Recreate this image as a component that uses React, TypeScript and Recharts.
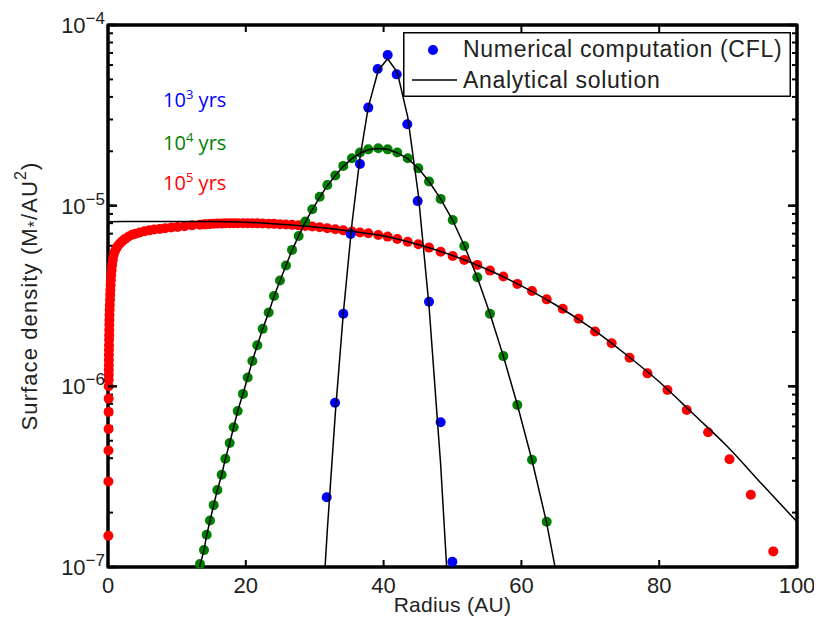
import React from 'react';
import { ComposedChart, Scatter, Line, XAxis, YAxis, Legend, ReferenceDot, ReferenceArea } from 'recharts';

// ---------- data ----------
const xTicks = [0, 20, 40, 60, 80, 100];
const yTicks = [
  1e-7, 2e-7, 3e-7, 4e-7, 5e-7, 6e-7, 7e-7, 8e-7, 9e-7,
  1e-6, 2e-6, 3e-6, 4e-6, 5e-6, 6e-6, 7e-6, 8e-6, 9e-6,
  1e-5, 2e-5, 3e-5, 4e-5, 5e-5, 6e-5, 7e-5, 8e-5, 9e-5,
  1e-4,
];
const xDomain = [0, 100];
const yDomain = [1e-7, 1e-4];

// 10^3 yrs numerical (blue)
const blueR = [31.74, 32.95, 34.15, 35.22, 36.57, 37.78, 39.14, 40.59, 41.9, 43.44, 44.95, 46.59, 48.28, 49.98];
const blueV = [2.43e-7, 8.12e-7, 2.52e-6, 6.97e-6, 1.7e-5, 3.49e-5, 5.71e-5, 6.82e-5, 5.33e-5, 2.82e-5, 1.06e-5, 2.94e-6, 6.33e-7, 1.07e-7];

// 10^4 yrs numerical (green)
const greenR = [13.35, 13.93, 14.32, 14.8, 15.34, 15.87, 16.5, 17.03, 17.66, 18.24, 18.82, 19.59, 20.27, 20.95, 21.67, 22.45, 23.32, 24.09, 24.96, 25.83, 26.71, 27.67, 28.64, 29.65, 30.72, 31.83, 32.99, 34.15, 35.41, 36.57, 37.78, 39.23, 40.59, 41.99, 43.5, 45.04, 46.59, 48.28, 50.03, 51.71, 53.6, 55.44, 57.38, 59.41, 61.54, 63.67];
const greenV = [1.04e-7, 1.24e-7, 1.51e-7, 1.81e-7, 2.2e-7, 2.67e-7, 3.24e-7, 3.97e-7, 4.86e-7, 5.94e-7, 7.31e-7, 9.08e-7, 1.12e-6, 1.38e-6, 1.69e-6, 2.08e-6, 2.56e-6, 3.16e-6, 3.85e-6, 4.66e-6, 5.69e-6, 6.8e-6, 8.16e-6, 9.55e-6, 1.12e-5, 1.3e-5, 1.47e-5, 1.66e-5, 1.83e-5, 1.97e-5, 2.05e-5, 2.08e-5, 2.05e-5, 1.97e-5, 1.83e-5, 1.61e-5, 1.36e-5, 1.09e-5, 8.33e-6, 5.98e-6, 4.02e-6, 2.52e-6, 1.47e-6, 7.88e-7, 3.92e-7, 1.78e-7];

// 10^5 yrs numerical (red)
const redR = [
  0.05, 0.06, 0.07, 0.08, 0.09, 0.095, 0.1, 0.105, 0.11, 0.115, 0.12, 0.125, 0.13, 0.14, 0.15, 0.16, 0.17, 0.18, 0.19, 0.2,
  0.22, 0.24, 0.26, 0.29, 0.32, 0.35, 0.38, 0.42, 0.47, 0.53, 0.6, 0.7, 0.82, 1.0, 1.2, 1.45, 1.75, 2.1, 2.5, 3.0,
  3.5, 4.0, 4.6, 5.3, 6.0, 6.7, 7.5, 8.3, 9.2, 10.1, 11.1, 12.2,
  13.35, 13.93, 14.32, 14.8, 15.34, 15.87, 16.5, 17.03, 17.66, 18.24, 18.82, 19.59, 20.27, 20.95, 21.67, 22.45, 23.32, 24.09, 24.96, 25.83,
  26.71, 27.67, 28.64, 29.65, 30.72, 31.83, 32.99, 34.15, 35.41, 36.57, 37.78, 39.23, 40.59, 41.99, 43.5, 45.04, 46.59, 48.28, 50.03, 51.71,
  53.6, 55.44, 57.38, 59.41, 61.54, 63.67, 66.0, 68.3, 70.7, 73.1, 75.7, 78.3, 81.2, 84.0, 87.1, 90.2, 93.3, 96.56,
];
const redV = [
  1.49e-7, 2.97e-7, 4.41e-7, 5.81e-7, 7.22e-7, 8.55e-7, 1.0e-6, 1.085e-6, 1.156e-6, 1.233e-6, 1.313e-6, 1.4e-6, 1.49e-6, 1.59e-6, 1.69e-6, 1.81e-6, 1.92e-6, 2.05e-6, 2.19e-6, 2.33e-6,
  2.48e-6, 2.65e-6, 2.82e-6, 3.01e-6, 3.21e-6, 3.41e-6, 3.64e-6, 3.88e-6, 4.13e-6, 4.4e-6, 4.7e-6, 5.01e-6, 5.33e-6, 5.6e-6, 5.8e-6, 6.0e-6, 6.2e-6, 6.38e-6, 6.55e-6, 6.75e-6,
  6.9e-6, 7.0e-6, 7.1e-6, 7.22e-6, 7.3e-6, 7.38e-6, 7.43e-6, 7.5e-6, 7.57e-6, 7.63e-6, 7.7e-6, 7.78e-6,
  7.85e-6, 7.88e-6, 7.9e-6, 7.92e-6, 7.94e-6, 7.96e-6, 7.97e-6, 7.98e-6, 7.99e-6, 8.0e-6, 8.0e-6, 8.0e-6, 8.0e-6, 7.99e-6, 7.98e-6, 7.97e-6, 7.95e-6, 7.93e-6, 7.9e-6, 7.87e-6,
  7.83e-6, 7.78e-6, 7.72e-6, 7.66e-6, 7.6e-6, 7.5e-6, 7.4e-6, 7.3e-6, 7.2e-6, 7.1e-6, 7.03e-6, 6.88e-6, 6.74e-6, 6.54e-6, 6.32e-6, 6.11e-6, 5.86e-6, 5.56e-6, 5.27e-6, 5.01e-6,
  4.7e-6, 4.37e-6, 4.05e-6, 3.69e-6, 3.37e-6, 3.03e-6, 2.69e-6, 2.37e-6, 2.01e-6, 1.73e-6, 1.44e-6, 1.18e-6, 9.55e-7, 7.4e-7, 5.57e-7, 3.95e-7, 2.51e-7, 1.22e-7,
];

// Analytical solutions (black lines)
const blueLineR = [30.72, 31.83, 32.99, 34.15, 35.41, 36.57, 37.78, 39.23, 40.59, 41.99, 43.5, 45.04, 46.59, 48.28, 50.03];
const blueLineV = [3.2e-8, 1.6e-7, 7.06e-7, 2.53e-6, 7.96e-6, 1.84e-5, 3.51e-5, 5.62e-5, 6.5e-5, 5.47e-5, 3.1e-5, 1.15e-5, 2.79e-6, 3.69e-7, 2.67e-8];

const greenLineR = [12.9, 13.35, 13.93, 14.32, 14.8, 15.34, 15.87, 16.5, 17.03, 17.66, 18.24, 18.82, 19.59, 20.27, 20.95, 21.67, 22.45, 23.32, 24.09, 24.96, 25.83, 26.71, 27.67, 28.64, 29.65, 30.72, 31.83, 32.99, 34.15, 35.41, 36.57, 37.78, 39.23, 40.59, 41.99, 43.5, 45.04, 46.59, 48.28, 50.03, 51.71, 53.6, 55.44, 57.38, 59.41, 61.54, 63.67, 65.99];
const greenLineV = [8.6e-8, 1.02e-7, 1.24e-7, 1.5e-7, 1.8e-7, 2.2e-7, 2.67e-7, 3.24e-7, 3.97e-7, 4.86e-7, 5.94e-7, 7.3e-7, 9.1e-7, 1.12e-6, 1.38e-6, 1.69e-6, 2.08e-6, 2.56e-6, 3.14e-6, 3.84e-6, 4.66e-6, 5.66e-6, 6.8e-6, 8.1e-6, 9.5e-6, 1.11e-5, 1.29e-5, 1.47e-5, 1.65e-5, 1.82e-5, 1.95e-5, 2.04e-5, 2.07e-5, 2.05e-5, 1.96e-5, 1.82e-5, 1.61e-5, 1.36e-5, 1.09e-5, 8.3e-6, 6.0e-6, 4.0e-6, 2.52e-6, 1.47e-6, 7.9e-7, 3.9e-7, 1.75e-7, 6.0e-8];

const redLineR = [0, 5, 10, 15, 20, 25, 30, 35, 40, 45, 50, 55, 60, 65, 70, 75, 80, 85, 90, 95, 100];
const redLineV = [8.15e-6, 8.17e-6, 8.18e-6, 8.17e-6, 8.1e-6, 7.9e-6, 7.62e-6, 7.25e-6, 6.8e-6, 6.1e-6, 5.3e-6, 4.45e-6, 3.6e-6, 2.82e-6, 2.12e-6, 1.52e-6, 1.06e-6, 7.0e-7, 4.6e-7, 2.85e-7, 1.78e-7];

// Annotation labels ("10^n yrs") with anchor positions in data space
const annExponents = ['3', '4', '5'];
const annColors = ['#0000ff', '#008000', '#ff0000'];
const annR = [8, 8, 8];
const annV = [3.52e-5, 2.03e-5, 1.22e-5];

const legendLabels = ['Numerical computation (CFL)', 'Analytical solution'];

// ---------- helpers ----------
const zip = (rs: number[], vs: number[]) => rs.map((r, i) => ({ r, v: vs[i] }));
const blueData = zip(blueR, blueV);
const greenData = zip(greenR, greenV);
const redData = zip(redR, redV);
const blueLine = zip(blueLineR, blueLineV);
const greenLine = zip(greenLineR, greenLineV);
const redLine = zip(redLineR, redLineV);

const FONT = '"Liberation Sans", Arial, Helvetica, sans-serif';
const ANN_FONT = '"Open Sans", "Noto Sans", sans-serif';
const TEXT = '#222';
const TICK_LINE = { stroke: '#000', strokeWidth: 2 };
const AXIS_LINE = { stroke: '#000', strokeWidth: 3 };

const isMajor = (v: number) => Math.abs(Math.log10(v) - Math.round(Math.log10(v))) < 1e-6;

const XTickBottom = (props: any) => {
  const { x, y, payload } = props;
  return (
    <text x={x} y={y + 26} textAnchor="middle" fontSize={22} fontFamily={FONT} fill={TEXT}>
      {payload.value}
    </text>
  );
};

const YTickLeft = (props: any) => {
  const { x, y, payload } = props;
  const v = payload.value as number;
  const major = isMajor(v);
  const exp = Math.round(Math.log10(v));
  if (!major) return <g />;
  return (
    <g>
      <line x1={x} x2={x + 9} y1={y} y2={y} stroke="#000" strokeWidth={2.5} />
      <text x={x - 3} y={y + 8} textAnchor="end" fontSize={22} fontFamily={FONT} fill={TEXT}>
        10
        <tspan dy={-9} fontSize={17}>{'\u2212' + String(-exp)}</tspan>
      </text>
    </g>
  );
};

const YTickRight = (props: any) => {
  const { x, y, payload } = props;
  if (!isMajor(payload.value)) return <g />;
  return <line x1={x} x2={x - 9} y1={y} y2={y} stroke="#000" strokeWidth={2.5} />;
};

const Empty = () => <g />;

const XTitle = (props: any) => {
  const vb = props.viewBox;
  return (
    <text x={vb.x + vb.width / 2} y={vb.y + 45} textAnchor="middle" fontSize={21} letterSpacing={0.3} fontFamily={FONT} fill={TEXT}>
      Radius (AU)
    </text>
  );
};

const YTitle = (props: any) => {
  const vb = props.viewBox;
  const cx = vb.x + 21;
  const cy = vb.y + vb.height / 2;
  return (
    <text
      x={cx}
      y={cy}
      transform={`rotate(-90, ${cx}, ${cy})`}
      textAnchor="middle"
      dominantBaseline="central"
      fontSize={22}
      letterSpacing={1.1}
      fontFamily={FONT}
      fill={TEXT}
    >
      Surface density (M
      <tspan dy={5} fontSize={16}>*</tspan>
      <tspan dy={-5}>/AU</tspan>
      <tspan dy={-9} fontSize={16}>2</tspan>
      <tspan dy={9}>)</tspan>
    </text>
  );
};

const LegendBox = () => (
  <svg width={388} height={65} style={{ display: 'block' }}>
    <rect x={0.75} y={0.75} width={386.5} height={63.5} fill="#fff" stroke="#000" strokeWidth={1.5} />
    <circle cx={30} cy={18} r={5} fill="#0000ff" />
    <text x={60} y={25} fontSize={23} letterSpacing={0.7} fontFamily={FONT} fill={TEXT}>
      {legendLabels[0]}
    </text>
    <line x1={9} x2={54} y1={48} y2={48} stroke="#000" strokeWidth={1.5} />
    <text x={60} y={56} fontSize={23} letterSpacing={0.7} fontFamily={FONT} fill={TEXT}>
      {legendLabels[1]}
    </text>
  </svg>
);

const makeAnn = (i: number) => (props: any) => {
  const vb = props.viewBox;
  return (
    <text x={vb.x} y={vb.y} fontSize={20} fontFamily={ANN_FONT} fill={annColors[i]}>
      10
      <tspan dy={-8} fontSize={13}>{annExponents[i]}</tspan>
      <tspan dy={8}>{' yrs'}</tspan>
    </text>
  );
};

const Dot = (props: any) => <circle cx={props.cx} cy={props.cy} r={5} fill={props.fill} />;

export default function App() {
  return (
    <div style={{ width: 814, height: 614 }}>
      <ComposedChart width={814} height={614} margin={{ top: 16, right: 24, bottom: 0, left: 0 }}>
        <XAxis
          xAxisId="b"
          dataKey="r"
          type="number"
          domain={xDomain}
          ticks={xTicks}
          interval={0}
          orientation="bottom"
          height={55}
          stroke="#000"
          strokeWidth={3}
          axisLine={AXIS_LINE}
          tickLine={TICK_LINE}
          tickSize={-7}
          tickMargin={7}
          tick={XTickBottom}
          label={XTitle}
        />
        <XAxis
          xAxisId="t"
          dataKey="r"
          type="number"
          domain={xDomain}
          allowDataOverflow
          ticks={xTicks}
          interval={0}
          orientation="top"
          height={1}
          stroke="#000"
          strokeWidth={3}
          axisLine={AXIS_LINE}
          tickLine={TICK_LINE}
          tickSize={-7}
          tickMargin={7}
          tick={Empty}
        />
        <YAxis
          yAxisId="l"
          dataKey="v"
          type="number"
          scale="log"
          domain={yDomain}
          ticks={yTicks}
          interval={0}
          width={100}
          stroke="#000"
          strokeWidth={3}
          axisLine={AXIS_LINE}
          tickLine={TICK_LINE}
          tickSize={-5}
          tickMargin={5}
          tick={YTickLeft}
          label={YTitle}
        />
        <YAxis
          yAxisId="r"
          orientation="right"
          dataKey="v"
          type="number"
          scale="log"
          domain={yDomain}
          allowDataOverflow
          ticks={yTicks}
          interval={0}
          width={1}
          stroke="#000"
          strokeWidth={3}
          axisLine={AXIS_LINE}
          tickLine={TICK_LINE}
          tickSize={-5}
          tickMargin={5}
          tick={YTickRight}
        />

        <ReferenceArea
          xAxisId="b"
          yAxisId="r"
          x1={xDomain[0]}
          x2={xDomain[1]}
          y1={yDomain[0]}
          y2={yDomain[1]}
          fill="none"
          fillOpacity={0}
          stroke="#000"
          strokeWidth={3}
          ifOverflow="visible"
        />

        <Scatter xAxisId="b" yAxisId="l" data={redData} fill="#ff0000" shape={Dot} isAnimationActive={false} />
        <Scatter xAxisId="b" yAxisId="l" data={greenData} fill="#008000" shape={Dot} isAnimationActive={false} />
        <Scatter xAxisId="b" yAxisId="l" data={blueData} fill="#0000ff" shape={Dot} isAnimationActive={false} />

        <Line xAxisId="b" yAxisId="r" data={redLine} dataKey="v" type="monotone" stroke="#000" strokeWidth={1.5} dot={false} isAnimationActive={false} zIndex={700} />
        <Line xAxisId="b" yAxisId="r" data={greenLine} dataKey="v" type="linear" stroke="#000" strokeWidth={1.5} dot={false} isAnimationActive={false} zIndex={700} />
        <Line xAxisId="b" yAxisId="r" data={blueLine} dataKey="v" type="linear" stroke="#000" strokeWidth={1.5} dot={false} isAnimationActive={false} zIndex={700} />

        {annExponents.map((e, i) => (
          <ReferenceDot
            key={e}
            xAxisId="b"
            yAxisId="l"
            x={annR[i]}
            y={annV[i]}
            r={0}
            fill="none"
            stroke="none"
            label={makeAnn(i)}
          />
        ))}

        <Legend
          layout="vertical"
          align="center"
          verticalAlign="middle"
          wrapperStyle={{ left: 395, top: 24, width: 388, height: 65 }}
          content={LegendBox}
        />
      </ComposedChart>
    </div>
  );
}
